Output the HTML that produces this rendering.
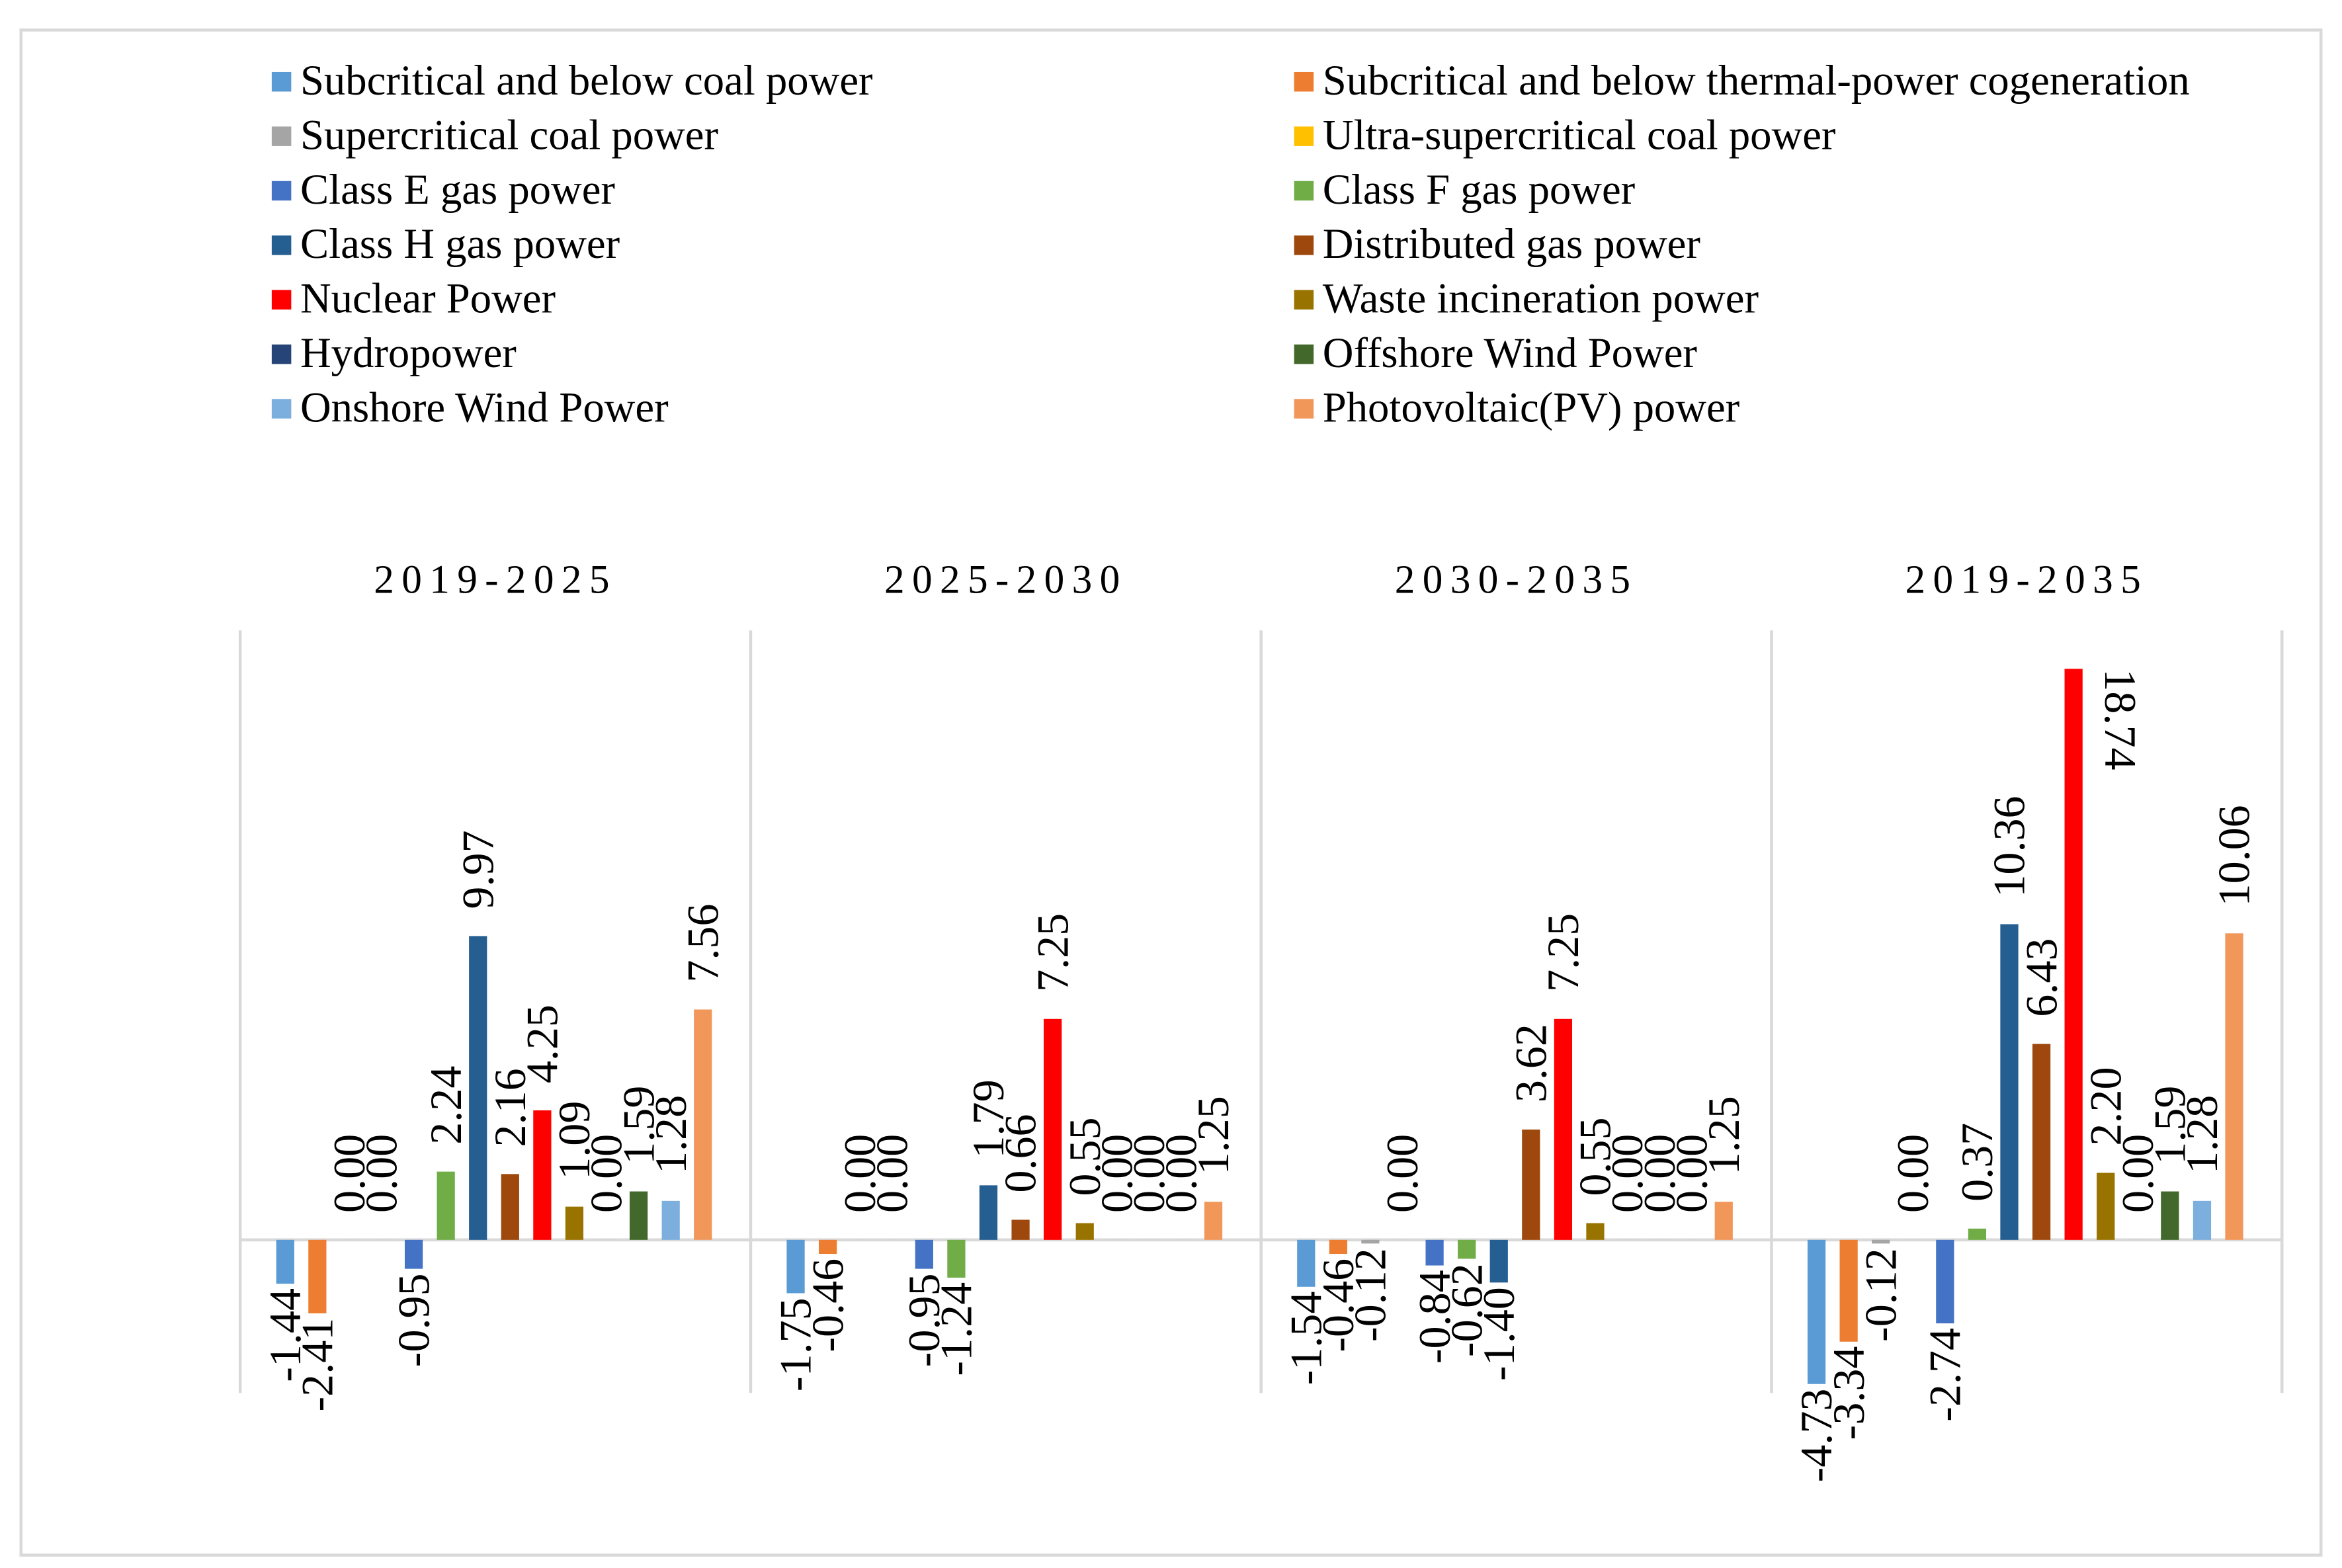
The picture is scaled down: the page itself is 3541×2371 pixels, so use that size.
<!DOCTYPE html>
<html><head><meta charset="utf-8"><style>
html,body{margin:0;padding:0;background:#fff}
svg{display:block}
text{font-family:"Liberation Serif",serif;fill:#000}
</style></head><body>
<svg id="chart" width="3541" height="2371" viewBox="0 0 1560 1044.6" preserveAspectRatio="none" xmlns="http://www.w3.org/2000/svg">
<rect x="14" y="20" width="1532" height="1016" fill="#fff" stroke="#D9D9D9" stroke-width="2"/>
<g id="legend"></g>
<g id="plot"></g>
</svg>
<script>
const seriesNames=["Subcritical and below coal power","Subcritical and below thermal-power cogeneration","Supercritical coal power","Ultra-supercritical coal power","Class E gas power","Class F gas power","Class H gas power","Distributed gas power","Nuclear Power","Waste incineration power","Hydropower","Offshore Wind Power","Onshore Wind Power","Photovoltaic(PV) power"];
const seriesColors=["#5B9BD5","#ED7D31","#A5A5A5","#FFC000","#4472C4","#70AD47","#255E91","#9E480E","#FF0000","#997300","#264478","#43682B","#7CAFDD","#F1975A"];
const periods=["2019-2025","2025-2030","2030-2035","2019-2035"];
const values2019_2025=[-1.44,-2.41,0.00,0.00,-0.95,2.24,9.97,2.16,4.25,1.09,0.00,1.59,1.28,7.56];
const values2025_2030=[-1.75,-0.46,0.00,0.00,-0.95,-1.24,1.79,0.66,7.25,0.55,0.00,0.00,0.00,1.25];
const values2030_2035=[-1.54,-0.46,-0.12,0.00,-0.84,-0.62,-1.40,3.62,7.25,0.55,0.00,0.00,0.00,1.25];
const values2019_2035=[-4.73,-3.34,-0.12,0.00,-2.74,0.37,10.36,6.43,18.74,2.20,0.00,1.59,1.28,10.06];
const allValues=[values2019_2025,values2025_2030,values2030_2035,values2019_2035];
const NS="http://www.w3.org/2000/svg";
function mk(tag,attrs,parent){const e=document.createElementNS(NS,tag);for(const k in attrs)e.setAttribute(k,attrs[k]);parent.appendChild(e);return e;}
const legend=document.getElementById('legend');
seriesNames.forEach((n,i)=>{
  const col=i%2,row=Math.floor(i/2);
  const x=col?862:181,y=54+row*36.3;
  const r=mk('rect',{x:x,y:y-6,width:13,height:13,fill:seriesColors[i]},legend);
  
  
  const t=mk('text',{x:x+19,y:y+9,'font-size':28.5},legend);
  t.textContent=n;
  
  
});
const plot=document.getElementById('plot');
const zeroY=826,pxPerUnit=20.3,panelW=340,panel0=160;
function yScale(v){return zeroY-v*pxPerUnit;}
function xBar(p,i){return panel0+p*panelW+30+i*21.4;}
for(let p=0;p<=4;p++){
  const l=mk('line',{x1:panel0+p*panelW,x2:panel0+p*panelW,y1:420,y2:928,stroke:"#D9D9D9","stroke-width":2},plot);
  
  
}
const z=mk('line',{x1:panel0,x2:panel0+4*panelW,y1:zeroY,y2:zeroY,stroke:"#D9D9D9","stroke-width":2},plot);


periods.forEach((per,p)=>{
  const t=mk('text',{x:panel0+p*panelW+panelW/2,y:395,'font-size':27,'text-anchor':'middle','letter-spacing':5},plot);
  t.textContent=per;
  
  
  allValues[p].forEach((v,i)=>{
    const cx=xBar(p,i),y0=yScale(Math.max(v,0)),y1=yScale(Math.min(v,0));
    const b=mk('rect',{x:cx-6,y:y0,width:12,height:Math.max(y1-y0,0.01),fill:seriesColors[i]},plot);
    
    
    let lx=cx+10,ly,anchor,rot=-90;
    if(v>=0){
      ly=y0-18;anchor='start';
      if(ly-62<420){lx=cx+21;ly=y0;rot=90;}
    }else{ly=y1+3;anchor='end';}
    const lb=mk('text',{x:lx,y:ly,'font-size':30,'text-anchor':anchor,transform:`rotate(${rot} ${lx} ${ly})`},plot);
    lb.textContent=v.toFixed(2);
    
    
  });
});
</script>
</body></html>
